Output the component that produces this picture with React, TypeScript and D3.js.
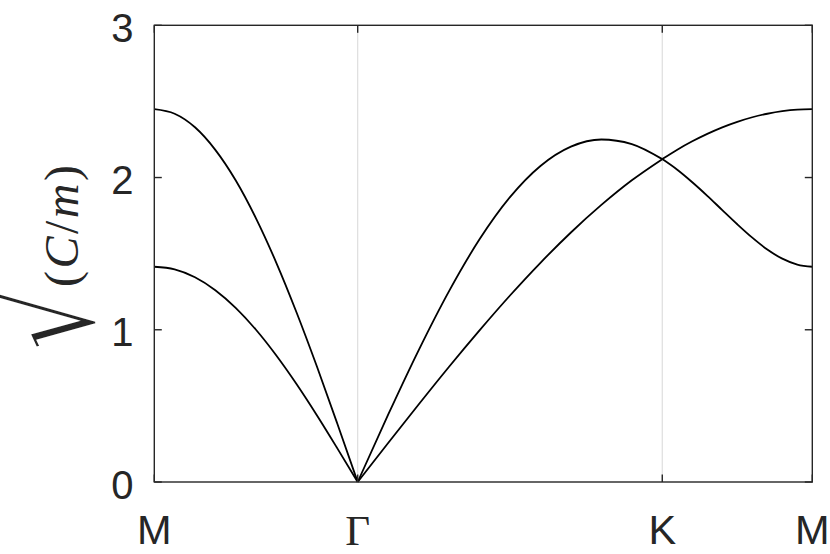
import React, { useEffect, useRef } from 'react';
import * as d3 from 'd3';

// high-symmetry points along the k-path (fraction of path length)
const kLabels = ['M', 'Γ', 'K', 'M'];
const kTicks = [0, 0.3091, 0.772, 1];
const yTicks = [0, 1, 2, 3];

// sample positions inside each segment
const tSteps = [0, 0.1, 0.2, 0.3, 0.4, 0.5, 0.6, 0.7, 0.8, 0.9, 1];

// M -> Gamma
const mgUpper = [2.449, 2.419, 2.330, 2.182, 1.982, 1.732, 1.440, 1.112, 0.757, 0.383, 0];
const mgLower = [1.414, 1.397, 1.345, 1.260, 1.144, 1.000, 0.831, 0.642, 0.437, 0.221, 0];
// Gamma -> K
const gkUpper = [0, 0.442, 0.865, 1.254, 1.594, 1.871, 2.076, 2.203, 2.250, 2.220, 2.121];
const gkLower = [0, 0.256, 0.509, 0.757, 0.996, 1.225, 1.440, 1.639, 1.820, 1.982, 2.121];
// K -> M
const kmUpper = [2.121, 2.183, 2.238, 2.287, 2.330, 2.366, 2.396, 2.419, 2.436, 2.446, 2.449];
const kmLower = [2.121, 2.051, 1.969, 1.880, 1.786, 1.693, 1.605, 1.527, 1.467, 1.428, 1.414];

const segmentBands = [
  [mgUpper, mgLower],
  [gkUpper, gkLower],
  [kmUpper, kmLower],
];

const W = 830;
const H = 554;
const axisColor = '#262626';
const serif = '"Liberation Serif", "DejaVu Serif", serif';
const sans = '"Liberation Sans", Arial, sans-serif';

const App = () => {
  const svgRef = useRef(null);

  useEffect(() => {
    const svg = d3.select(svgRef.current);
    svg.selectAll('*').remove();

    const left = 154.3, right = 812.3, top = 25.3, bottom = 482;
    const x = d3.scaleLinear().domain([0, 1]).range([left, right]);
    const y = d3.scaleLinear().domain([0, 3]).range([bottom, top]);

    svg.append('rect').attr('width', W).attr('height', H).attr('fill', '#fff');

    // vertical grid lines at interior high-symmetry points
    svg.append('g')
      .selectAll('line')
      .data(kTicks.slice(1, -1))
      .join('line')
      .attr('x1', d => x(d)).attr('x2', d => x(d))
      .attr('y1', top).attr('y2', bottom)
      .attr('stroke', '#dedede')
      .attr('stroke-width', 1.2);

    // dispersion branches, one path per segment so the kinks stay sharp
    const line = d3.line()
      .x(d => x(d[0]))
      .y(d => y(d[1]))
      .curve(d3.curveMonotoneX);

    segmentBands.forEach((bands, i) => {
      const k0 = kTicks[i], k1 = kTicks[i + 1];
      bands.forEach(vals => {
        const pts = tSteps.map((t, j) => [k0 + t * (k1 - k0), vals[j]]);
        svg.append('path')
          .datum(pts)
          .attr('fill', 'none')
          .attr('stroke', '#000')
          .attr('stroke-width', 1.8)
          .attr('d', line);
      });
    });

    // axes box
    svg.append('rect')
      .attr('x', left).attr('y', top)
      .attr('width', right - left).attr('height', bottom - top)
      .attr('fill', 'none')
      .attr('stroke', axisColor)
      .attr('stroke-width', 1.4);

    const tickLen = 7.5;
    const ticks = svg.append('g').attr('stroke', axisColor).attr('stroke-width', 1.4);
    yTicks.forEach(v => {
      ticks.append('line').attr('x1', left).attr('x2', left + tickLen).attr('y1', y(v)).attr('y2', y(v));
      ticks.append('line').attr('x1', right).attr('x2', right - tickLen).attr('y1', y(v)).attr('y2', y(v));
    });
    kTicks.forEach(k => {
      ticks.append('line').attr('x1', x(k)).attr('x2', x(k)).attr('y1', bottom).attr('y2', bottom - tickLen);
      ticks.append('line').attr('x1', x(k)).attr('x2', x(k)).attr('y1', top).attr('y2', top + tickLen);
    });

    // y tick labels
    svg.append('g')
      .selectAll('text')
      .data(yTicks)
      .join('text')
      .attr('x', 133.5)
      .attr('y', d => y(d) + 16.5)
      .attr('text-anchor', 'end')
      .attr('font-family', sans)
      .attr('font-size', 40)
      .attr('fill', axisColor)
      .text(d => d);

    // x tick labels (Gamma typeset in a serif face like LaTeX)
    svg.append('g')
      .selectAll('text')
      .data(kTicks)
      .join('text')
      .attr('x', d => x(d))
      .attr('y', (d, i) => (kLabels[i] === 'Γ' ? 544.5 : 543.5))
      .attr('text-anchor', 'middle')
      .attr('font-family', (d, i) => (kLabels[i] === 'Γ' ? serif : sans))
      .attr('font-size', (d, i) => (kLabels[i] === 'Γ' ? 43 : 41.5))
      .attr('fill', axisColor)
      .text((d, i) => kLabels[i]);

    // y axis label, rotated; in this frame x = -screenY, y = screenX - 78
    const ylab = svg.append('g').attr('transform', 'translate(78,0) rotate(-90)');
    // tall radical, thinned with a white outline painted over the fill
    ylab.append('text')
      .attr('x', -351)
      .attr('y', 16)
      .attr('font-family', '"DejaVu Serif", serif')
      .attr('font-size', 136)
      .attr('textLength', 66)
      .attr('lengthAdjust', 'spacingAndGlyphs')
      .attr('fill', axisColor)
      .attr('stroke', '#fff')
      .attr('stroke-width', 3)
      .text('√');
    const frac = ylab.append('text')
      .attr('x', -287)
      .attr('y', 0)
      .attr('font-family', serif)
      .attr('font-size', 48)
      .attr('textLength', 122)
      .attr('lengthAdjust', 'spacing')
      .attr('fill', axisColor);
    frac.append('tspan').text('(');
    frac.append('tspan').attr('font-style', 'italic').text('C');
    frac.append('tspan').text('/');
    frac.append('tspan').attr('font-style', 'italic').text('m');
    frac.append('tspan').text(')');
  }, []);

  return (
    <svg
      ref={svgRef}
      width={W}
      height={H}
      style={{ position: 'absolute', left: 0, top: 0 }}
    />
  );
};

export default App;
